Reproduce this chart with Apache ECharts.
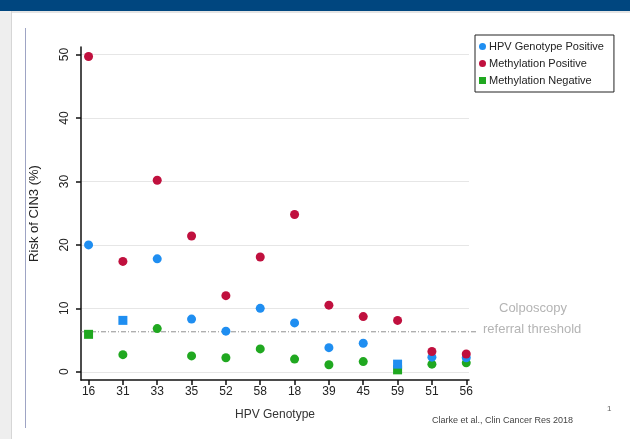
<!DOCTYPE html>
<html>
<head>
<meta charset="utf-8">
<script src="https://cdn.jsdelivr.net/npm/echarts@6/dist/echarts.min.js"></script>
<style>
  html, body { margin: 0; padding: 0; background: #ffffff; }
  #chart { width: 630px; height: 439px; }
</style>
</head>
<body>
<div id="chart"></div>
<script>
// HPV genotypes in plotted order
const genotypes = ['16', '31', '33', '35', '52', '58', '18', '39', '45', '59', '51', '56'];

// Risk of CIN3 (%) per genotype
const hpvPositive = [20.0, 8.1, 17.8, 8.3, 6.4, 10.0, 7.7, 3.8, 4.5, 1.2, 2.3, 2.2];
const methPositive = [49.7, 17.4, 30.2, 21.4, 12.0, 18.1, 24.8, 10.5, 8.7, 8.1, 3.2, 2.8];
const methNegative = [5.9, 2.7, 6.8, 2.5, 2.2, 3.6, 2.0, 1.1, 1.6, 0.3, 1.2, 1.4];

// Colposcopy referral threshold (%)
const referralThreshold = 6.3;

// Y-axis tick values
const yTicks = [0, 10, 20, 30, 40, 50];

const seriesNames = ['HPV Genotype Positive', 'Methylation Positive', 'Methylation Negative'];
const colors = ['#1f8ef1', '#c0103e', '#20a820'];

const FONT = '"Liberation Sans", Arial, sans-serif';

const points = arr => arr.map((v, i) => [i, v]);
const xTicks = genotypes.map((g, i) => i);

const chart = echarts.init(document.getElementById('chart'), null, { renderer: 'canvas' });

chart.setOption({
  animation: false,
  backgroundColor: '#ffffff',
  textStyle: { fontFamily: FONT },
  graphic: [
    // page frame
    { type: 'rect', shape: { x: 0, y: 0, width: 11, height: 439 }, style: { fill: '#eeeeee' }, silent: true },
    { type: 'rect', shape: { x: 11, y: 11, width: 619, height: 2 }, style: { fill: '#e4e4e4' }, silent: true },
    { type: 'line', shape: { x1: 11.5, y1: 11, x2: 11.5, y2: 439 }, style: { stroke: '#d6d6d6', lineWidth: 1 }, silent: true },
    { type: 'rect', shape: { x: 0, y: 0, width: 630, height: 11 }, style: { fill: '#00467f' }, silent: true },
    { type: 'line', shape: { x1: 25.5, y1: 28, x2: 25.5, y2: 428 }, style: { stroke: '#9ea4c4', lineWidth: 1 }, silent: true },
    // threshold annotation
    { type: 'text', left: 499, top: 302, style: { text: 'Colposcopy', fill: '#b4b4b4', font: '13px ' + FONT }, silent: true },
    { type: 'text', left: 483, top: 323, style: { text: 'referral threshold', fill: '#b4b4b4', font: '13px ' + FONT }, silent: true },
    // source
    { type: 'text', left: 432, top: 416, style: { text: 'Clarke et al., Clin Cancer Res 2018', fill: '#444444', font: '9px ' + FONT }, silent: true },
    { type: 'text', left: 607, top: 405, style: { text: '1', fill: '#666666', font: '8px ' + FONT }, silent: true }
  ],
  legend: {
    orient: 'vertical',
    left: 475,
    top: 35,
    width: 140,
    padding: [6, 10, 6, 4],
    itemGap: 6,
    itemWidth: 7,
    itemHeight: 7,
    borderColor: '#222222',
    borderWidth: 1,
    textStyle: { fontSize: 11, color: '#222222', fontFamily: FONT, padding: [0, 0, 0, -2] },
    data: [
      { name: seriesNames[0], icon: 'circle' },
      { name: seriesNames[1], icon: 'circle' },
      { name: seriesNames[2], icon: 'rect' }
    ]
  },
  grid: [
    { left: 81, right: 161, top: 47, bottom: 59 },
    { left: 81, right: 152, top: 47, bottom: 59 }
  ],
  xAxis: [
    {
      type: 'value',
      gridIndex: 0,
      min: -0.22,
      max: 11.08,
      name: 'HPV Genotype',
      nameLocation: 'middle',
      nameGap: 29,
      nameTextStyle: { fontSize: 12, color: '#333333' },
      axisLine: { show: true, onZero: false, lineStyle: { color: '#111111', width: 1.5 } },
      axisTick: { show: true, customValues: xTicks, length: 5, lineStyle: { color: '#111111', width: 1.5 } },
      axisLabel: {
        customValues: xTicks,
        margin: 6,
        fontSize: 12,
        color: '#222222',
        formatter: v => genotypes[Math.round(v)]
      },
      splitLine: { show: false }
    },
    {
      type: 'value', gridIndex: 1, min: 0, max: 1, show: false
    }
  ],
  yAxis: [
    {
      type: 'value',
      gridIndex: 0,
      min: -1.3,
      max: 51.2,
      name: 'Risk of CIN3 (%)',
      nameLocation: 'middle',
      nameRotate: 90,
      nameGap: 40,
      nameTextStyle: { fontSize: 13, color: '#222222' },
      axisLine: { show: true, onZero: false, lineStyle: { color: '#111111', width: 1.5 } },
      axisTick: { show: true, customValues: yTicks, length: 5, lineStyle: { color: '#111111', width: 1.5 } },
      axisLabel: { customValues: yTicks, rotate: 90, margin: 10, fontSize: 12, color: '#222222' },
      splitLine: { show: true, customValues: yTicks, lineStyle: { color: '#e6e6e6', width: 1 } }
    },
    {
      type: 'value', gridIndex: 1, min: -1.3, max: 51.2, show: false, splitLine: { show: false }
    }
  ],
  series: [
    {
      name: 'threshold',
      type: 'line',
      xAxisIndex: 1,
      yAxisIndex: 1,
      data: [[0, referralThreshold], [1, referralThreshold]],
      symbol: 'none',
      lineStyle: { color: '#909090', width: 1, type: [5, 2, 1, 2] },
      silent: true,
      z: 1
    },
    {
      name: seriesNames[2],
      type: 'scatter',
      data: points(methNegative),
      symbol: (v, p) => (p.dataIndex === 0 || p.dataIndex === 9) ? 'rect' : 'circle',
      symbolSize: 9,
      itemStyle: { color: colors[2], opacity: 1 },
      z: 3
    },
    {
      name: seriesNames[0],
      type: 'scatter',
      data: points(hpvPositive),
      symbol: (v, p) => (p.dataIndex === 1 || p.dataIndex === 9) ? 'rect' : 'circle',
      symbolSize: 9,
      itemStyle: { color: colors[0], opacity: 1 },
      z: 4
    },
    {
      name: seriesNames[1],
      type: 'scatter',
      data: points(methPositive),
      symbol: 'circle',
      symbolSize: 9,
      itemStyle: { color: colors[1], opacity: 1 },
      z: 5
    }
  ]
});
</script>
</body>
</html>
